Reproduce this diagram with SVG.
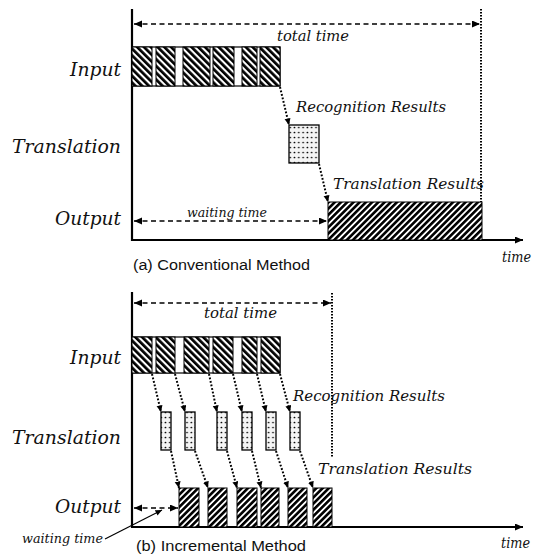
<svg xmlns="http://www.w3.org/2000/svg" width="533" height="556" viewBox="0 0 533 556">
<style>
.lbl{font-family:"DejaVu Serif","Liberation Serif",serif;font-style:italic;fill:#111}
.big{font-size:18px}
.sm{font-size:14px}
.xs{font-size:12px}
.cap{font-family:"Liberation Sans",Arial,sans-serif;font-size:15.5px;fill:#111}
.axis{stroke:#000;stroke-width:2.2;fill:none}
.xaxis{stroke:#000;stroke-width:1.8;fill:none}
.dash{stroke:#000;stroke-width:1.7;stroke-dasharray:5 3.5;fill:none}
.dot{stroke:#000;stroke-width:2;stroke-dasharray:1.8 1.8;fill:none}
.vdot{stroke:#000;stroke-width:2;stroke-dasharray:1.6 1.4;fill:none}
.lead{stroke:#000;stroke-width:1.2;fill:none}
.inp{fill:url(#hatchIn);stroke:#000;stroke-width:1}
.row{fill:#fff;stroke:#000;stroke-width:1.2}
.tr{fill:url(#dots);stroke:#000;stroke-width:1.3}
.out{fill:url(#hatchOut);stroke:#000;stroke-width:1}
</style>
<defs>
<pattern id="hatchIn" patternUnits="userSpaceOnUse" width="4.8" height="10" patternTransform="rotate(-45)">
<rect width="4.8" height="10" fill="#fff"/><rect width="2.7" height="10" fill="#000"/>
</pattern>
<pattern id="hatchOut" patternUnits="userSpaceOnUse" width="4.4" height="10" patternTransform="rotate(45)">
<rect width="4.4" height="10" fill="#fff"/><rect width="2.6" height="10" fill="#000"/>
</pattern>
<pattern id="dots" patternUnits="userSpaceOnUse" width="4.3" height="5">
<rect width="4.3" height="5" fill="#f4f4f4"/><circle cx="2.1" cy="2.5" r="0.85" fill="#000"/>
</pattern>
<marker id="ah" markerUnits="userSpaceOnUse" markerWidth="9" markerHeight="8" refX="8" refY="3.5" orient="auto-start-reverse">
<path d="M0,0 L8,3.5 L0,7 z" fill="#000"/>
</marker>
<marker id="ahs" markerUnits="userSpaceOnUse" markerWidth="8" markerHeight="7" refX="6.5" refY="3" orient="auto">
<path d="M0,0 L6.5,3 L0,6 z" fill="#000"/>
</marker>
</defs>

<!-- Panel (a) -->
<g id="a-axes">
<line class="axis" x1="132" y1="9" x2="132" y2="241"/>
<line class="xaxis" x1="131" y1="240" x2="523" y2="240" marker-end="url(#ah)"/>
<text class="lbl sm" x="502" y="262" textLength="29" lengthAdjust="spacingAndGlyphs">time</text>
<text class="cap" x="133" y="270" textLength="177" lengthAdjust="spacingAndGlyphs">(a) Conventional Method</text>
</g>
<g id="a-labels">
<text class="lbl big" x="121" y="76" text-anchor="end" textLength="51" lengthAdjust="spacingAndGlyphs">Input</text>
<text class="lbl big" x="121" y="153" text-anchor="end" textLength="109" lengthAdjust="spacingAndGlyphs">Translation</text>
<text class="lbl big" x="121" y="225" text-anchor="end" textLength="66" lengthAdjust="spacingAndGlyphs">Output</text>
</g>
<g id="a-input">
<rect class="row" x="132" y="47" width="148" height="39"/>
<rect class="inp" x="132" y="47" width="20" height="39"/>
<rect class="inp" x="156" y="47" width="19" height="39"/>
<rect class="inp" x="183" y="47" width="27" height="39"/>
<rect class="inp" x="213" y="47" width="21" height="39"/>
<rect class="inp" x="242" y="47" width="15" height="39"/>
<rect class="inp" x="260" y="47" width="20" height="39"/>
</g>
<g id="a-translation">
<rect class="tr" x="289" y="125" width="30" height="38"/>
</g>
<g id="a-output">
<rect class="out" x="328" y="202" width="154" height="38"/>
</g>
<g id="a-notes">
<text class="lbl sm" x="277" y="41" textLength="72" lengthAdjust="spacingAndGlyphs">total time</text>
<text class="lbl sm" x="296" y="112" textLength="150" lengthAdjust="spacingAndGlyphs">Recognition Results</text>
<text class="lbl sm" x="333" y="189" textLength="151" lengthAdjust="spacingAndGlyphs">Translation Results</text>
<text class="lbl xs" x="187" y="217" textLength="80" lengthAdjust="spacingAndGlyphs">waiting time</text>
</g>
<g id="a-connectors">
<line class="dash" x1="134" y1="24" x2="480" y2="24" marker-start="url(#ah)" marker-end="url(#ah)"/>
<line class="vdot" x1="481" y1="9" x2="481" y2="202"/>
<line class="dash" x1="134" y1="221" x2="327" y2="221" marker-start="url(#ah)" marker-end="url(#ah)"/>
<line class="dot" x1="280" y1="87" x2="289" y2="125" marker-end="url(#ahs)"/>
<line class="dot" x1="319" y1="164" x2="328" y2="202" marker-end="url(#ahs)"/>
</g>

<!-- Panel (b) -->
<g id="b-axes">
<line class="axis" x1="132" y1="292" x2="132" y2="528"/>
<line class="xaxis" x1="131" y1="527" x2="523" y2="527" marker-end="url(#ah)"/>
<text class="lbl sm" x="501" y="548" textLength="29" lengthAdjust="spacingAndGlyphs">time</text>
<text class="cap" x="136" y="551" textLength="170" lengthAdjust="spacingAndGlyphs">(b)  Incremental Method</text>
</g>
<g id="b-labels">
<text class="lbl big" x="121" y="364" text-anchor="end" textLength="51" lengthAdjust="spacingAndGlyphs">Input</text>
<text class="lbl big" x="121" y="444" text-anchor="end" textLength="109" lengthAdjust="spacingAndGlyphs">Translation</text>
<text class="lbl big" x="121" y="513" text-anchor="end" textLength="66" lengthAdjust="spacingAndGlyphs">Output</text>
</g>
<g id="b-input">
<rect class="row" x="132" y="337" width="148" height="36"/>
<rect class="inp" x="132" y="337" width="20" height="36"/>
<rect class="inp" x="156" y="337" width="19" height="36"/>
<rect class="inp" x="184" y="337" width="25" height="36"/>
<rect class="inp" x="213" y="337" width="20" height="36"/>
<rect class="inp" x="242" y="337" width="15" height="36"/>
<rect class="inp" x="261" y="337" width="19" height="36"/>
</g>
<g id="b-translation">
<rect class="tr" x="161" y="412" width="10" height="38"/>
<rect class="tr" x="185" y="412" width="10" height="38"/>
<rect class="tr" x="217" y="412" width="10" height="38"/>
<rect class="tr" x="242" y="412" width="10" height="38"/>
<rect class="tr" x="266" y="412" width="10" height="38"/>
<rect class="tr" x="290" y="412" width="10" height="38"/>
</g>
<g id="b-output">
<rect class="out" x="179" y="488" width="20" height="39"/>
<rect class="out" x="208" y="488" width="19" height="39"/>
<rect class="out" x="237" y="488" width="20" height="39"/>
<rect class="out" x="261" y="488" width="18" height="39"/>
<rect class="out" x="288" y="488" width="19" height="39"/>
<rect class="out" x="313" y="488" width="19" height="39"/>
</g>
<g id="b-notes">
<text class="lbl sm" x="204" y="318" textLength="73" lengthAdjust="spacingAndGlyphs">total time</text>
<text class="lbl sm" x="293" y="401" textLength="152" lengthAdjust="spacingAndGlyphs">Recognition Results</text>
<text class="lbl sm" x="318" y="474" textLength="154" lengthAdjust="spacingAndGlyphs">Translation Results</text>
<text class="lbl xs" x="22" y="543" textLength="81" lengthAdjust="spacingAndGlyphs">waiting time</text>
</g>
<g id="b-connectors">
<line class="dash" x1="134" y1="303" x2="331" y2="303" marker-start="url(#ah)" marker-end="url(#ah)"/>
<line class="vdot" x1="332" y1="293" x2="332" y2="458"/>
<line class="dash" x1="134" y1="508" x2="178" y2="508" marker-start="url(#ah)" marker-end="url(#ah)"/>
<line class="lead" x1="105" y1="539" x2="162" y2="510" marker-end="url(#ahs)"/>
<line class="dot" x1="152" y1="374" x2="161" y2="412" marker-end="url(#ahs)"/>
<line class="dot" x1="175" y1="374" x2="185" y2="412" marker-end="url(#ahs)"/>
<line class="dot" x1="209" y1="374" x2="217" y2="412" marker-end="url(#ahs)"/>
<line class="dot" x1="233" y1="374" x2="242" y2="412" marker-end="url(#ahs)"/>
<line class="dot" x1="257" y1="374" x2="266" y2="412" marker-end="url(#ahs)"/>
<line class="dot" x1="280" y1="374" x2="290" y2="412" marker-end="url(#ahs)"/>
<line class="dot" x1="171" y1="451" x2="179" y2="488" marker-end="url(#ahs)"/>
<line class="dot" x1="195" y1="451" x2="208" y2="488" marker-end="url(#ahs)"/>
<line class="dot" x1="227" y1="451" x2="237" y2="488" marker-end="url(#ahs)"/>
<line class="dot" x1="252" y1="451" x2="261" y2="488" marker-end="url(#ahs)"/>
<line class="dot" x1="276" y1="451" x2="288" y2="488" marker-end="url(#ahs)"/>
<line class="dot" x1="300" y1="451" x2="313" y2="488" marker-end="url(#ahs)"/>
</g>
</svg>
